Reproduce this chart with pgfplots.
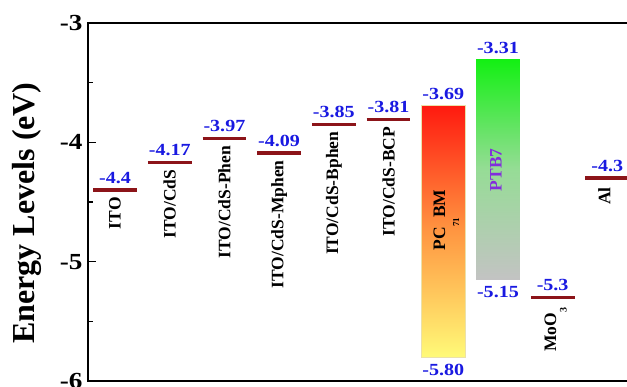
\documentclass[border=0pt]{standalone}
\usepackage{fontspec}
\setmainfont{Liberation Serif}
\usepackage{graphicx}
\usepackage{pgfplots}
\pgfplotsset{compat=1.18}
\definecolor{lvl}{RGB}{140,20,25}
\definecolor{valblue}{RGB}{25,25,225}
\definecolor{ptbpurple}{RGB}{130,45,220}
\definecolor{pctop}{RGB}{255,25,15}
\definecolor{pcmid}{RGB}{255,150,65}
\definecolor{pcbot}{RGB}{255,250,120}
\definecolor{pcedge}{RGB}{235,225,170}
\definecolor{ptbtop}{RGB}{20,240,20}
\definecolor{ptbmid}{RGB}{150,220,150}
\definecolor{ptbbot}{RGB}{195,195,195}
\newcommand\wide[1]{\scalebox{1.18}[1]{#1}}
\newcommand\vfont{\fontsize{17}{17}\selectfont\bfseries}
\newcommand\cfont{\fontsize{17.5}{17.5}\selectfont\bfseries}
\begin{document}
\begin{tikzpicture}
\begin{axis}[
  at={(0pt,0pt)}, anchor=south west,
  scale only axis, width=544pt, height=358pt,
  xmin=-0.494, xmax=9.451, ymin=-6, ymax=-3,
  axis line style={line width=2.8pt},
  ytick={-3,-4,-5,-6},
  yticklabels={\wide{-3},\wide{-4},\wide{-5},\wide{-6}},
  minor ytick={-3.5,-4.5,-5.5},
  ytick pos=left, tick align=inside,
  major tick length=8pt, minor tick length=5pt,
  every tick/.style={line width=1.6pt, black},
  xtick=\empty,
  yticklabel style={font=\fontsize{23}{23}\selectfont\bfseries, xshift=-2pt},
  clip=true,
]
% HOMO/LUMO rectangles
\addplot[draw=pcedge, line width=0.5pt, top color=pctop, bottom color=pcbot, middle color=pcmid]
  coordinates {(5.6,-3.69) (6.4,-3.69) (6.4,-5.80) (5.6,-5.80)} -- cycle;
\addplot[draw=none, top color=ptbtop, bottom color=ptbbot, middle color=ptbmid]
  coordinates {(6.6,-3.31) (7.4,-3.31) (7.4,-5.15) (6.6,-5.15)} -- cycle;
% work function levels
\addplot[lvl, line width=3.4pt] coordinates {(-0.4,-4.4) (0.4,-4.4)};
\addplot[lvl, line width=3.4pt] coordinates {(0.6,-4.17) (1.4,-4.17)};
\addplot[lvl, line width=3.4pt] coordinates {(1.6,-3.97) (2.4,-3.97)};
\addplot[lvl, line width=3.4pt] coordinates {(2.6,-4.09) (3.4,-4.09)};
\addplot[lvl, line width=3.4pt] coordinates {(3.6,-3.85) (4.4,-3.85)};
\addplot[lvl, line width=3.4pt] coordinates {(4.6,-3.81) (5.4,-3.81)};
\addplot[lvl, line width=3.4pt] coordinates {(7.6,-5.3) (8.4,-5.3)};
\addplot[lvl, line width=3.4pt] coordinates {(8.6,-4.3) (9.4,-4.3)};
% value labels
\begin{scope}[every node/.style={font=\vfont, text=valblue, inner sep=0pt, anchor=base}]
\node at ([yshift=7pt]axis cs:0,-4.4) {\wide{-4.4}};
\node at ([yshift=7pt]axis cs:1,-4.17) {\wide{-4.17}};
\node at ([yshift=7pt]axis cs:2,-3.97) {\wide{-3.97}};
\node at ([yshift=7pt]axis cs:3,-4.09) {\wide{-4.09}};
\node at ([yshift=7pt]axis cs:4,-3.85) {\wide{-3.85}};
\node at ([yshift=7pt]axis cs:5,-3.81) {\wide{-3.81}};
\node at ([yshift=6pt]axis cs:6,-3.69) {\wide{-3.69}};
\node at ([yshift=-18pt]axis cs:6,-5.80) {\wide{-5.80}};
\node at ([yshift=6pt]axis cs:7,-3.31) {\wide{-3.31}};
\node at ([yshift=-18pt]axis cs:7,-5.15) {\wide{-5.15}};
\node at ([yshift=7pt]axis cs:8,-5.3) {\wide{-5.3}};
\node at ([yshift=7pt]axis cs:9,-4.3) {\wide{-4.3}};
\end{scope}
% category labels
\begin{scope}[every node/.style={font=\cfont, inner sep=0pt, rotate=90, anchor=east}]
\node at ([yshift=-7pt]axis cs:0,-4.4) {ITO};
\node at ([yshift=-7pt]axis cs:1,-4.17) {ITO/CdS};
\node at ([yshift=-7pt]axis cs:2,-3.97) {ITO/CdS-Phen};
\node at ([yshift=-7pt]axis cs:3,-4.09) {ITO/CdS-Mphen};
\node at ([yshift=-7pt]axis cs:4,-3.85) {ITO/CdS-Bphen};
\node at ([yshift=-7pt]axis cs:5,-3.81) {ITO/CdS-BCP};
\node at ([xshift=3pt,yshift=-10pt]axis cs:8,-5.3) {MoO\raisebox{-0.6em}{\fontsize{10}{10}\selectfont 3}};
\node at ([xshift=-3pt,yshift=-9pt]axis cs:9,-4.3) {Al};
\end{scope}
\node[font=\cfont, inner sep=0pt, rotate=90] at ([xshift=3pt]axis cs:6,-4.65)
  {PC\raisebox{-0.8em}{\fontsize{9}{9}\selectfont 71}BM};
\node[font=\cfont, inner sep=0pt, rotate=90, text=ptbpurple] at ([xshift=-2pt]axis cs:7,-4.23) {PTB7};
\end{axis}
\node[rotate=90, anchor=south, inner sep=0pt, font=\fontsize{32}{32}\selectfont\bfseries]
  at (-46pt,168pt) {Energy Levels (eV)};
\pgfresetboundingbox
\useasboundingbox (-88pt,-6pt) rectangle (539pt,381pt);
\end{tikzpicture}
\end{document}
